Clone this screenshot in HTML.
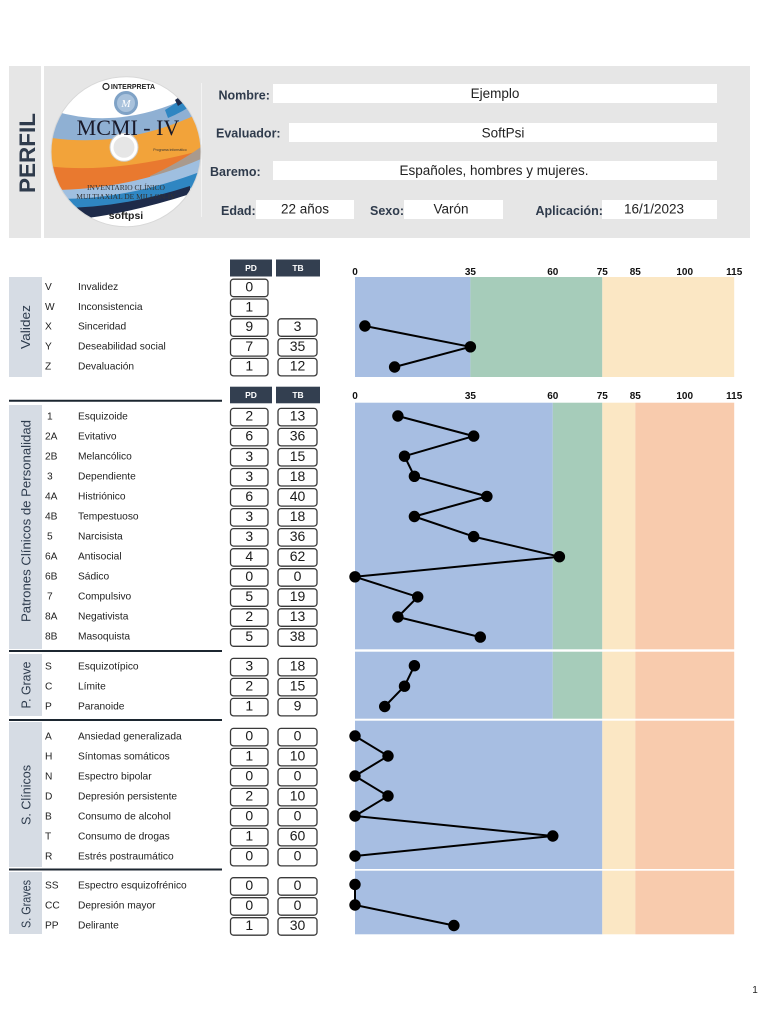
<!DOCTYPE html>
<html><head><meta charset="utf-8">
<style>
html,body{margin:0;padding:0;background:#fff;}
svg{display:block;}
text{font-family:"Liberation Sans",sans-serif;}
</style></head>
<body>
<svg width="768" height="1024" viewBox="0 0 768 1024" xmlns="http://www.w3.org/2000/svg">
<defs>
<clipPath id="disc"><circle cx="126" cy="151.7" r="75"/></clipPath>
</defs>
<!-- Header panel -->
<rect x="9" y="66" width="741" height="172" fill="#e6e6e6"/>
<rect x="41" y="66" width="3" height="172" fill="#ffffff"/>
<text transform="translate(35,153) rotate(-90)" text-anchor="middle" font-size="22.5" font-weight="bold" fill="#2f3b4c" textLength="80" lengthAdjust="spacingAndGlyphs">PERFIL</text>
<line x1="201.5" y1="83" x2="201.5" y2="217" stroke="#f3f3f3" stroke-width="1"/>

<!-- Disc -->
<g clip-path="url(#disc)">
<rect x="45" y="70" width="165" height="165" fill="#ffffff"/>
<path d="M40 106 Q120 138 210 86 L210 118 Q120 152 40 140 Z" fill="#8fb0d3"/>
<path d="M40 136 Q125 152 210 108 L210 168 Q130 185 40 196 Z" fill="#f2a33a"/>
<path d="M40 165 Q110 176 210 148 L210 172 Q120 195 40 200 Z" fill="#e9792f"/>
<path d="M150 176 Q185 160 210 140 L210 158 Q180 178 150 186 Z" fill="#a99a8e"/>
<path d="M40 190 Q130 192 210 155 L210 172 Q130 206 40 207 Z" fill="#9fbfe0"/>
<path d="M40 198 Q120 204 210 168 L210 182 Q120 214 40 213 Z" fill="#2f86c2"/>
<path d="M40 207 Q110 212 190 186 L190 194 Q110 220 40 222 Z" fill="#1e2b4a"/>
<path d="M165 110 Q185 98 205 80 L210 92 Q188 110 168 118 Z" fill="#2f86c2"/>
<path d="M175 100 Q190 90 200 78 L206 82 Q194 96 178 106 Z" fill="#1e2b4a"/>
</g>
<circle cx="126" cy="151.7" r="75" fill="none" stroke="#d8d8d8" stroke-width="1"/>
<circle cx="124" cy="147.3" r="14" fill="#ffffff" stroke="#cfcfcf" stroke-width="1"/>
<circle cx="124" cy="147.3" r="10.5" fill="#e6e6e6"/>
<circle cx="126" cy="103" r="12" fill="#7fa2c6"/>
<circle cx="126" cy="103" r="9" fill="#a9c2dc"/>
<text x="126" y="107" text-anchor="middle" font-style="italic" font-size="11" fill="#ffffff" style="font-family:'Liberation Serif',serif">M</text>
<text x="133" y="89" text-anchor="middle" font-size="7" font-weight="bold" fill="#222">INTERPRETA</text>
<circle cx="106" cy="86.5" r="3" fill="none" stroke="#222" stroke-width="1.2"/>
<text x="128" y="135" text-anchor="middle" font-size="22" fill="#1a1a2a" style="font-family:'Liberation Serif',serif">MCMI - IV</text>
<text x="170" y="151" text-anchor="middle" font-size="3.5" fill="#333">Programa informático</text>
<text x="126" y="190" text-anchor="middle" font-size="7.5" fill="#333" style="font-family:'Liberation Serif',serif">INVENTARIO CLÍNICO</text>
<text x="126" y="199" text-anchor="middle" font-size="7.5" fill="#333" style="font-family:'Liberation Serif',serif">MULTIAXIAL DE MILLON-IV</text>
<text x="126" y="219" text-anchor="middle" font-size="10.5" font-weight="bold" fill="#222">softpsi</text>

<!-- Header fields -->
<g font-size="12.5" font-weight="bold" fill="#2f3b4c">
<text x="218.5" y="99.5">Nombre:</text>
<text x="216" y="137.5">Evaluador:</text>
<text x="210" y="176">Baremo:</text>
<text x="221" y="215">Edad:</text>
<text x="370" y="215">Sexo:</text>
<text x="535.5" y="215">Aplicación:</text>
</g>
<g fill="#ffffff">
<rect x="273" y="84" width="444" height="19"/>
<rect x="289" y="123" width="428" height="19"/>
<rect x="273" y="161" width="444" height="19"/>
<rect x="256" y="200" width="98" height="19"/>
<rect x="404" y="200" width="99" height="19"/>
<rect x="602" y="200" width="115" height="19"/>
</g>
<g font-size="13.5" fill="#222" text-anchor="middle">
<text x="495" y="98">Ejemplo</text>
<text x="503" y="137.5">SoftPsi</text>
<text x="494" y="175">Españoles, hombres y mujeres.</text>
<text x="305" y="213.5">22 años</text>
<text x="451" y="213.5">Varón</text>
<text x="654" y="213.5">16/1/2023</text>
</g>

<!-- Sidebars -->
<g fill="#d6dce4">
<rect x="9" y="277" width="33" height="100"/>
<rect x="9" y="405" width="33" height="244"/>
<rect x="9" y="654" width="33" height="62"/>
<rect x="9" y="722" width="33" height="145"/>
<rect x="9" y="872" width="33" height="62"/>
</g>
<g font-size="13.2" fill="#2d3b4d" text-anchor="middle">
<text transform="translate(30,327) rotate(-90)" textLength="44" lengthAdjust="spacingAndGlyphs">Validez</text>
<text transform="translate(30.5,521) rotate(-90)" textLength="202" lengthAdjust="spacingAndGlyphs">Patrones Clínicos de Personalidad</text>
<text transform="translate(30.5,685) rotate(-90)" textLength="47" lengthAdjust="spacingAndGlyphs">P. Grave</text>
<text transform="translate(30.5,795) rotate(-90)" textLength="60" lengthAdjust="spacingAndGlyphs">S. Clínicos</text>
<text transform="translate(30.5,904) rotate(-90)" textLength="48" lengthAdjust="spacingAndGlyphs">S. Graves</text>
</g>
<g stroke="#1c2630" stroke-width="2">
<line x1="9" y1="400.7" x2="222" y2="400.7"/>
<line x1="9" y1="651" x2="222" y2="651"/>
<line x1="9" y1="720" x2="222" y2="720"/>
<line x1="9" y1="869.5" x2="222" y2="869.5"/>
</g>

<!-- PD/TB headers -->
<g fill="#333f50">
<rect x="230" y="259.5" width="42" height="17"/>
<rect x="276" y="259.5" width="44" height="17"/>
<rect x="230" y="386.7" width="42" height="16.6"/>
<rect x="276" y="386.7" width="44" height="16.6"/>
</g>
<g font-size="8.5" font-weight="bold" fill="#ffffff" text-anchor="middle">
<text x="251" y="271">PD</text><text x="298" y="271">TB</text>
<text x="251" y="398">PD</text><text x="298" y="398">TB</text>
</g>

<!-- Charts backgrounds -->
<rect x="355" y="277" width="115.4" height="100" fill="#a7bee2"/>
<rect x="470.4" y="277" width="131.9" height="100" fill="#a6ccba"/>
<rect x="602.3" y="277" width="131.9" height="100" fill="#fbe7c4"/>

<rect x="355" y="402.7" width="197.8" height="246.6" fill="#a7bee2"/>
<rect x="552.8" y="402.7" width="49.5" height="246.6" fill="#a6ccba"/>
<rect x="602.3" y="402.7" width="33" height="246.6" fill="#fbe7c4"/>
<rect x="635.3" y="402.7" width="98.9" height="246.6" fill="#f8cbad"/>

<rect x="355" y="651.7" width="197.8" height="67" fill="#a7bee2"/>
<rect x="552.8" y="651.7" width="49.5" height="67" fill="#a6ccba"/>
<rect x="602.3" y="651.7" width="33" height="67" fill="#fbe7c4"/>
<rect x="635.3" y="651.7" width="98.9" height="67" fill="#f8cbad"/>

<rect x="355" y="720.7" width="247.3" height="148.3" fill="#a7bee2"/>
<rect x="602.3" y="720.7" width="33" height="148.3" fill="#fbe7c4"/>
<rect x="635.3" y="720.7" width="98.9" height="148.3" fill="#f8cbad"/>

<rect x="355" y="870.7" width="247.3" height="63.6" fill="#a7bee2"/>
<rect x="602.3" y="870.7" width="33" height="63.6" fill="#fbe7c4"/>
<rect x="635.3" y="870.7" width="98.9" height="63.6" fill="#f8cbad"/>

<!-- Tick labels -->
<g font-size="10" font-weight="bold" fill="#111" text-anchor="middle">
<text x="355" y="275">0</text><text x="470.4" y="275">35</text><text x="552.8" y="275">60</text><text x="602.3" y="275">75</text><text x="635.3" y="275">85</text><text x="684.7" y="275">100</text><text x="734.2" y="275">115</text>
<text x="355" y="399">0</text><text x="470.4" y="399">35</text><text x="552.8" y="399">60</text><text x="602.3" y="399">75</text><text x="635.3" y="399">85</text><text x="684.7" y="399">100</text><text x="734.2" y="399">115</text>
</g>

<!-- Row labels -->
<g font-size="10.2" fill="#1e1e1e">
<text x="45" y="290.1">V</text><text x="78" y="290.1">Invalidez</text>
<text x="45" y="309.9">W</text><text x="78" y="309.9">Inconsistencia</text>
<text x="45" y="329.7">X</text><text x="78" y="329.7">Sinceridad</text>
<text x="45" y="349.5">Y</text><text x="78" y="349.5">Deseabilidad social</text>
<text x="45" y="369.3">Z</text><text x="78" y="369.3">Devaluación</text>

<text x="47" y="419.3">1</text><text x="78" y="419.3">Esquizoide</text>
<text x="45" y="439.3">2A</text><text x="78" y="439.3">Evitativo</text>
<text x="45" y="459.4">2B</text><text x="78" y="459.4">Melancólico</text>
<text x="47" y="479.4">3</text><text x="78" y="479.4">Dependiente</text>
<text x="45" y="499.5">4A</text><text x="78" y="499.5">Histriónico</text>
<text x="45" y="519.5">4B</text><text x="78" y="519.5">Tempestuoso</text>
<text x="47" y="539.5">5</text><text x="78" y="539.5">Narcisista</text>
<text x="45" y="559.6">6A</text><text x="78" y="559.6">Antisocial</text>
<text x="45" y="579.6">6B</text><text x="78" y="579.6">Sádico</text>
<text x="47" y="599.7">7</text><text x="78" y="599.7">Compulsivo</text>
<text x="45" y="619.7">8A</text><text x="78" y="619.7">Negativista</text>
<text x="45" y="639.7">8B</text><text x="78" y="639.7">Masoquista</text>

<text x="45" y="669.3">S</text><text x="78" y="669.3">Esquizotípico</text>
<text x="45" y="689.3">C</text><text x="78" y="689.3">Límite</text>
<text x="45" y="709.3">P</text><text x="78" y="709.3">Paranoide</text>

<text x="45" y="739.3">A</text><text x="78" y="739.3">Ansiedad generalizada</text>
<text x="45" y="759.3">H</text><text x="78" y="759.3">Síntomas somáticos</text>
<text x="45" y="779.3">N</text><text x="78" y="779.3">Espectro bipolar</text>
<text x="45" y="799.3">D</text><text x="78" y="799.3">Depresión persistente</text>
<text x="45" y="819.3">B</text><text x="78" y="819.3">Consumo de alcohol</text>
<text x="45" y="839.3">T</text><text x="78" y="839.3">Consumo de drogas</text>
<text x="45" y="859.3">R</text><text x="78" y="859.3">Estrés postraumático</text>

<text x="45" y="888.6">SS</text><text x="78" y="888.6">Espectro esquizofrénico</text>
<text x="45" y="908.6">CC</text><text x="78" y="908.6">Depresión mayor</text>
<text x="45" y="928.6">PP</text><text x="78" y="928.6">Delirante</text>
</g>

<!-- Boxes -->
<g fill="#ffffff" stroke="#3a3a3a" stroke-width="1.3">
<rect x="230.5" y="279.2" width="37.5" height="17.5" rx="3"/>
<rect x="230.5" y="299" width="37.5" height="17.5" rx="3"/>
<rect x="230.5" y="318.8" width="37.5" height="17.5" rx="3"/><rect x="278" y="318.8" width="39" height="17.5" rx="3"/>
<rect x="230.5" y="338.6" width="37.5" height="17.5" rx="3"/><rect x="278" y="338.6" width="39" height="17.5" rx="3"/>
<rect x="230.5" y="358.4" width="37.5" height="17.5" rx="3"/><rect x="278" y="358.4" width="39" height="17.5" rx="3"/>

<rect x="230.5" y="408.4" width="37.5" height="17.5" rx="3"/><rect x="278" y="408.4" width="39" height="17.5" rx="3"/>
<rect x="230.5" y="428.4" width="37.5" height="17.5" rx="3"/><rect x="278" y="428.4" width="39" height="17.5" rx="3"/>
<rect x="230.5" y="448.5" width="37.5" height="17.5" rx="3"/><rect x="278" y="448.5" width="39" height="17.5" rx="3"/>
<rect x="230.5" y="468.5" width="37.5" height="17.5" rx="3"/><rect x="278" y="468.5" width="39" height="17.5" rx="3"/>
<rect x="230.5" y="488.6" width="37.5" height="17.5" rx="3"/><rect x="278" y="488.6" width="39" height="17.5" rx="3"/>
<rect x="230.5" y="508.6" width="37.5" height="17.5" rx="3"/><rect x="278" y="508.6" width="39" height="17.5" rx="3"/>
<rect x="230.5" y="528.6" width="37.5" height="17.5" rx="3"/><rect x="278" y="528.6" width="39" height="17.5" rx="3"/>
<rect x="230.5" y="548.7" width="37.5" height="17.5" rx="3"/><rect x="278" y="548.7" width="39" height="17.5" rx="3"/>
<rect x="230.5" y="568.7" width="37.5" height="17.5" rx="3"/><rect x="278" y="568.7" width="39" height="17.5" rx="3"/>
<rect x="230.5" y="588.8" width="37.5" height="17.5" rx="3"/><rect x="278" y="588.8" width="39" height="17.5" rx="3"/>
<rect x="230.5" y="608.8" width="37.5" height="17.5" rx="3"/><rect x="278" y="608.8" width="39" height="17.5" rx="3"/>
<rect x="230.5" y="628.8" width="37.5" height="17.5" rx="3"/><rect x="278" y="628.8" width="39" height="17.5" rx="3"/>

<rect x="230.5" y="658.4" width="37.5" height="17.5" rx="3"/><rect x="278" y="658.4" width="39" height="17.5" rx="3"/>
<rect x="230.5" y="678.4" width="37.5" height="17.5" rx="3"/><rect x="278" y="678.4" width="39" height="17.5" rx="3"/>
<rect x="230.5" y="698.4" width="37.5" height="17.5" rx="3"/><rect x="278" y="698.4" width="39" height="17.5" rx="3"/>

<rect x="230.5" y="728.4" width="37.5" height="17.5" rx="3"/><rect x="278" y="728.4" width="39" height="17.5" rx="3"/>
<rect x="230.5" y="748.4" width="37.5" height="17.5" rx="3"/><rect x="278" y="748.4" width="39" height="17.5" rx="3"/>
<rect x="230.5" y="768.4" width="37.5" height="17.5" rx="3"/><rect x="278" y="768.4" width="39" height="17.5" rx="3"/>
<rect x="230.5" y="788.4" width="37.5" height="17.5" rx="3"/><rect x="278" y="788.4" width="39" height="17.5" rx="3"/>
<rect x="230.5" y="808.4" width="37.5" height="17.5" rx="3"/><rect x="278" y="808.4" width="39" height="17.5" rx="3"/>
<rect x="230.5" y="828.4" width="37.5" height="17.5" rx="3"/><rect x="278" y="828.4" width="39" height="17.5" rx="3"/>
<rect x="230.5" y="848.4" width="37.5" height="17.5" rx="3"/><rect x="278" y="848.4" width="39" height="17.5" rx="3"/>

<rect x="230.5" y="877.7" width="37.5" height="17.5" rx="3"/><rect x="278" y="877.7" width="39" height="17.5" rx="3"/>
<rect x="230.5" y="897.7" width="37.5" height="17.5" rx="3"/><rect x="278" y="897.7" width="39" height="17.5" rx="3"/>
<rect x="230.5" y="917.7" width="37.5" height="17.5" rx="3"/><rect x="278" y="917.7" width="39" height="17.5" rx="3"/>
</g>

<!-- Box numbers -->
<g font-size="14" fill="#1a1a1a" text-anchor="middle">
<text x="249.3" y="291.5">0</text>
<text x="249.3" y="311.3">1</text>
<text x="249.3" y="331.1">9</text><text x="297.5" y="331.1">3</text>
<text x="249.3" y="350.9">7</text><text x="297.5" y="350.9">35</text>
<text x="249.3" y="370.7">1</text><text x="297.5" y="370.7">12</text>

<text x="249.3" y="420.7">2</text><text x="297.5" y="420.7">13</text>
<text x="249.3" y="440.7">6</text><text x="297.5" y="440.7">36</text>
<text x="249.3" y="460.8">3</text><text x="297.5" y="460.8">15</text>
<text x="249.3" y="480.8">3</text><text x="297.5" y="480.8">18</text>
<text x="249.3" y="500.9">6</text><text x="297.5" y="500.9">40</text>
<text x="249.3" y="520.9">3</text><text x="297.5" y="520.9">18</text>
<text x="249.3" y="540.9">3</text><text x="297.5" y="540.9">36</text>
<text x="249.3" y="561">4</text><text x="297.5" y="561">62</text>
<text x="249.3" y="581">0</text><text x="297.5" y="581">0</text>
<text x="249.3" y="601.1">5</text><text x="297.5" y="601.1">19</text>
<text x="249.3" y="621.1">2</text><text x="297.5" y="621.1">13</text>
<text x="249.3" y="641.1">5</text><text x="297.5" y="641.1">38</text>

<text x="249.3" y="670.7">3</text><text x="297.5" y="670.7">18</text>
<text x="249.3" y="690.7">2</text><text x="297.5" y="690.7">15</text>
<text x="249.3" y="710.7">1</text><text x="297.5" y="710.7">9</text>

<text x="249.3" y="740.7">0</text><text x="297.5" y="740.7">0</text>
<text x="249.3" y="760.7">1</text><text x="297.5" y="760.7">10</text>
<text x="249.3" y="780.7">0</text><text x="297.5" y="780.7">0</text>
<text x="249.3" y="800.7">2</text><text x="297.5" y="800.7">10</text>
<text x="249.3" y="820.7">0</text><text x="297.5" y="820.7">0</text>
<text x="249.3" y="840.7">1</text><text x="297.5" y="840.7">60</text>
<text x="249.3" y="860.7">0</text><text x="297.5" y="860.7">0</text>

<text x="249.3" y="890">0</text><text x="297.5" y="890">0</text>
<text x="249.3" y="910">0</text><text x="297.5" y="910">0</text>
<text x="249.3" y="930">1</text><text x="297.5" y="930">30</text>
</g>

<!-- Series -->
<g fill="none" stroke="#000" stroke-width="2" stroke-linejoin="round">
<polyline points="364.9,326 470.4,346.8 394.6,367"/>
<polyline points="397.9,416 473.7,436.1 404.5,456.2 414.4,476.3 486.9,496.4 414.4,516.5 473.7,536.6 559.4,556.7 355,576.8 417.7,596.9 397.9,617 480.3,637.1"/>
<polyline points="414.4,665.7 404.5,686.2 384.7,706.5"/>
<polyline points="355,736 388,756 355,776 388,796 355,816 552.8,836 355,856"/>
<polyline points="355,884.5 355,905 453.9,925.5"/>
</g>
<g fill="#000">
<circle cx="364.9" cy="326" r="5.7"/><circle cx="470.4" cy="346.8" r="5.7"/><circle cx="394.6" cy="367" r="5.7"/>
<circle cx="397.9" cy="416" r="5.7"/><circle cx="473.7" cy="436.1" r="5.7"/><circle cx="404.5" cy="456.2" r="5.7"/><circle cx="414.4" cy="476.3" r="5.7"/><circle cx="486.9" cy="496.4" r="5.7"/><circle cx="414.4" cy="516.5" r="5.7"/><circle cx="473.7" cy="536.6" r="5.7"/><circle cx="559.4" cy="556.7" r="5.7"/><circle cx="355" cy="576.8" r="5.7"/><circle cx="417.7" cy="596.9" r="5.7"/><circle cx="397.9" cy="617" r="5.7"/><circle cx="480.3" cy="637.1" r="5.7"/>
<circle cx="414.4" cy="665.7" r="5.7"/><circle cx="404.5" cy="686.2" r="5.7"/><circle cx="384.7" cy="706.5" r="5.7"/>
<circle cx="355" cy="736" r="5.7"/><circle cx="388" cy="756" r="5.7"/><circle cx="355" cy="776" r="5.7"/><circle cx="388" cy="796" r="5.7"/><circle cx="355" cy="816" r="5.7"/><circle cx="552.8" cy="836" r="5.7"/><circle cx="355" cy="856" r="5.7"/>
<circle cx="355" cy="884.5" r="5.7"/><circle cx="355" cy="905" r="5.7"/><circle cx="453.9" cy="925.5" r="5.7"/>
</g>

<text x="755" y="993" font-size="10" fill="#222" text-anchor="middle">1</text>
</svg>
</body></html>
